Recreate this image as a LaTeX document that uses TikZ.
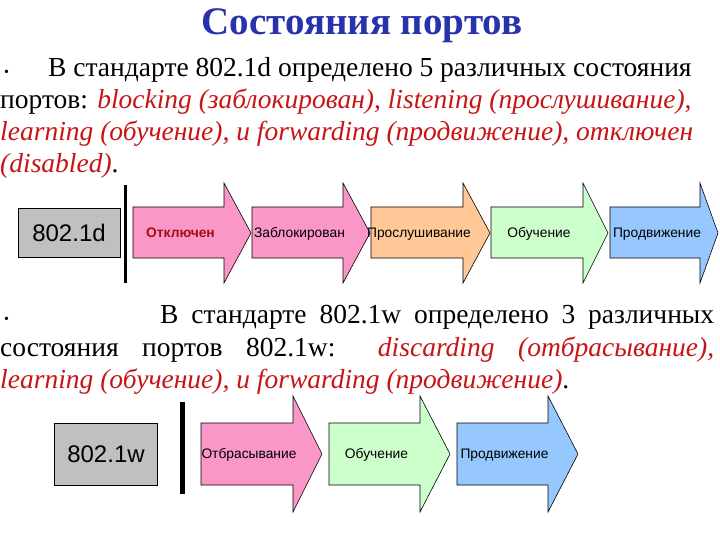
\documentclass[tikz,border=0pt]{standalone}
\usepackage{fontspec}
\setmainfont{Liberation Serif}
\newfontfamily\arial{Liberation Sans}
\definecolor{tblue}{RGB}{40,50,170}
\definecolor{tred}{RGB}{200,20,20}
\definecolor{cpink}{RGB}{250,150,200}
\definecolor{corange}{RGB}{255,200,150}
\definecolor{cgreen}{RGB}{204,255,204}
\definecolor{cblue}{RGB}{150,200,255}
\definecolor{cgray}{RGB}{192,192,192}
\newcommand{\parr}[9]{\draw[fill=#8,line width=0.6pt] (#1,#4) -- (#2,#4) -- (#2,#6) -- (#3,{(#6+#7)/2}) -- (#2,#7) -- (#2,#5) -- (#1,#5) -- cycle; \node[lab] at ({(#1+#2)/2+2},{(#4+#5)/2+2}) {#9};}
\newcommand{\ri}[1]{{\color{tred}\itshape #1}}
\begin{document}
\begin{tikzpicture}[x=1pt,y=-1pt,
  lab/.style={font=\arial\fontsize{13.8}{16}\selectfont,text height=1.5ex,text depth=0.3ex},
  txt/.style={anchor=base west,inner sep=0pt,font=\fontsize{27.5}{32}\selectfont},
  std/.style={draw,fill=cgray,line width=0.6pt,font=\arial\fontsize{24}{28}\selectfont,inner sep=0pt}]
\useasboundingbox (0,0) rectangle (720,540);
\node[anchor=base,font=\bfseries\fontsize{39}{44}\selectfont,text=tblue] (title) at (362,35) {Состояния портов};
\node[txt,font=\fontsize{14}{16}\selectfont] (b1) at (4,77) {•};
\node[txt] (l1) at (48,77) {В стандарте 802.1d определено 5 различных состояния};
\node[txt] (l2) at (0,109) {портов: \ri{blocking (заблокирован), listening (прослушивание),}};
\node[txt] (l3) at (0,141) {\ri{learning (обучение), и forwarding (продвижение), отключен}};
\node[txt] (l4) at (0,173) {\ri{(disabled)}.};
\node[std,minimum width=102pt,minimum height=49pt] (d) at (69,233) {802.1d};
\draw[line width=3pt] (125,185) -- (125,283);
\parr{133}{224}{251}{207}{258}{183}{283}{cpink}{\textbf{\color{tred!80!black}Отключен}}
\parr{252}{343}{370}{207}{258}{183}{283}{cpink}{Заблокирован}
\parr{371}{463}{490}{207}{258}{183}{283}{corange}{Прослушивание}
\parr{491}{583}{608}{207}{258}{183}{283}{cgreen}{Обучение}
\parr{610}{700}{718}{207}{258}{183}{283}{cblue}{Продвижение}
\node[txt,font=\fontsize{14}{16}\selectfont] (b2) at (4,323) {•};
\node[txt] (m1) at (160,323) {\makebox[554pt][s]{В стандарте 802.1w определено 3 различных}};
\node[txt] (m2) at (0,356) {\makebox[714pt][s]{состояния портов 802.1w: \ri{discarding (отбрасывание),}}};
\node[txt] (m3) at (0,388) {\ri{learning (обучение), и forwarding (продвижение)}.};
\node[std,minimum width=103pt,minimum height=62pt] (w) at (106,454) {802.1w};
\draw[line width=5pt] (182,402) -- (182,494);
\parr{201}{293}{322}{423}{485}{396}{512}{cpink}{Отбрасывание}
\parr{329}{420}{450}{423}{485}{396}{512}{cgreen}{Обучение}
\parr{457}{548}{578}{423}{485}{396}{512}{cblue}{Продвижение}
\end{tikzpicture}
\end{document}
